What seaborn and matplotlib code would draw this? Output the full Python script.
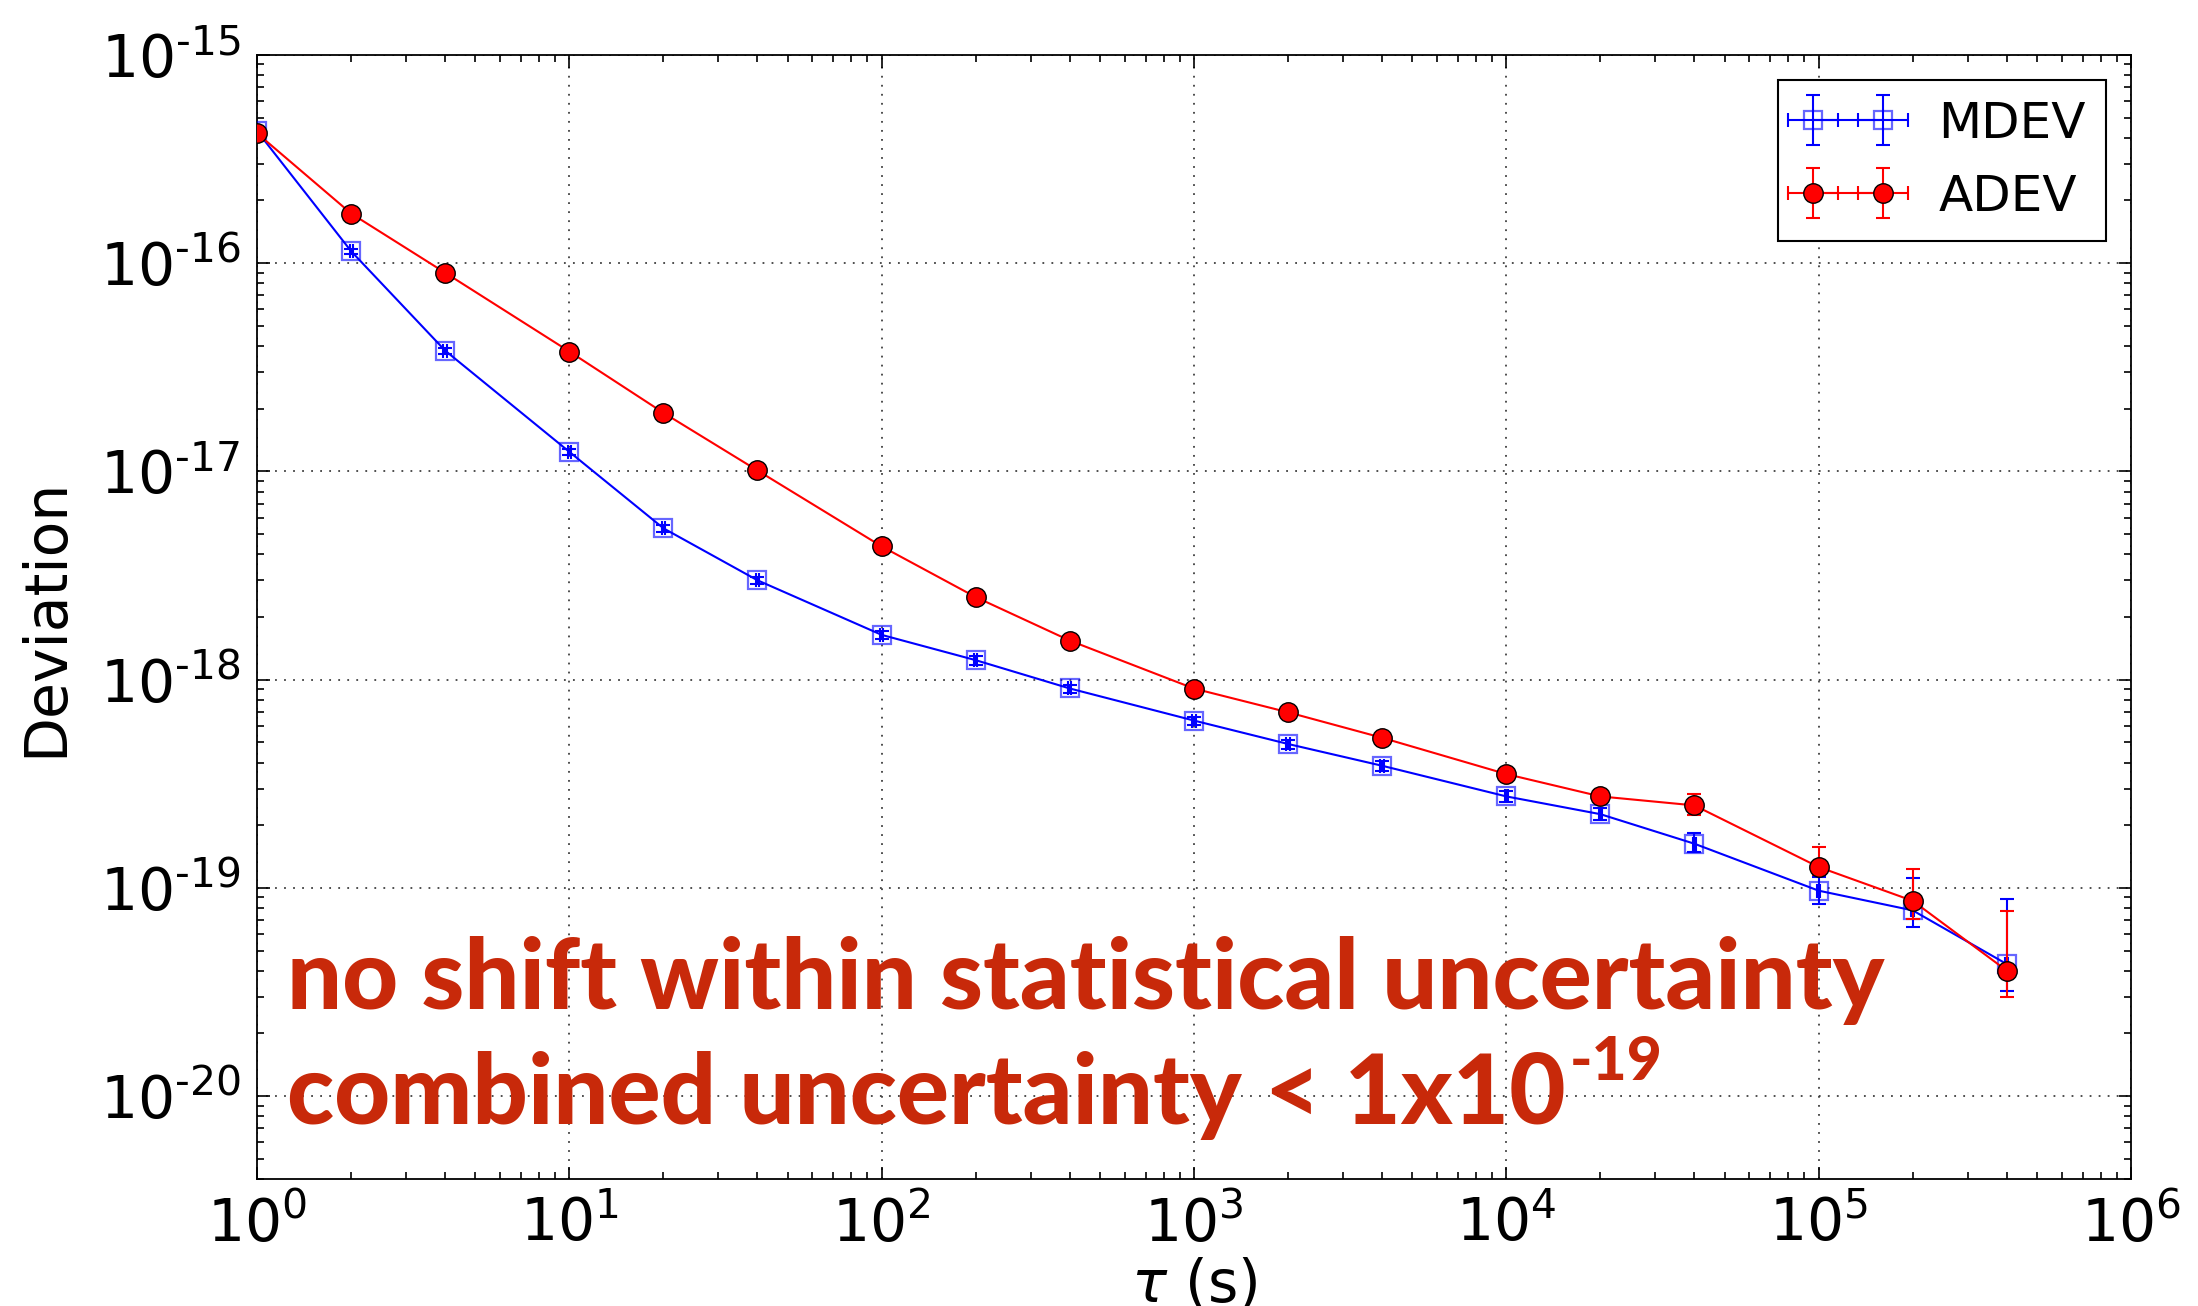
import matplotlib
matplotlib.use("Agg")
import matplotlib.pyplot as plt
import seaborn as sns
import numpy as np
import pandas as pd
from matplotlib.container import ErrorbarContainer
from matplotlib.ticker import FuncFormatter, LogLocator

# ---------------- data ----------------
tau = [1, 2, 4, 10, 20, 40, 100, 200, 400, 1e3, 2e3, 4e3, 1e4, 2e4, 4e4, 1e5, 2e5, 4e5]
tau_err = [0.012, 0.024, 0.05, 0.12, 0.24, 0.5, 1.2, 2.4, 5, 12, 24, 50, 120, 240, 500, 1200, 2400, 5000]

mdev = [4.3e-16, 1.14e-16, 3.80e-17, 1.24e-17, 5.33e-18, 3.0e-18, 1.64e-18, 1.24e-18,
        9.07e-19, 6.36e-19, 4.91e-19, 3.86e-19, 2.75e-19, 2.26e-19, 1.63e-19, 9.7e-20,
        7.8e-20, 4.31e-20]
mdev_err_lo = [1.0e-17, 3e-18, 1.2e-18, 4e-19, 2e-19, 1.2e-19, 7e-20, 6e-20, 4e-20, 2.8e-20,
               2.4e-20, 2.0e-20, 1.6e-20, 1.5e-20, 1.4e-20, 1.3e-20, 1.3e-20, 1.1e-20]
mdev_err_hi = [1.0e-17, 3e-18, 1.2e-18, 4e-19, 2e-19, 1.2e-19, 7e-20, 6e-20, 4e-20, 2.8e-20,
               2.4e-20, 2.0e-20, 1.8e-20, 1.6e-20, 2.1e-20, 1.6e-20, 3.3e-20, 4.5e-20]

adev = [4.2e-16, 1.73e-16, 8.99e-17, 3.76e-17, 1.91e-17, 1.01e-17, 4.36e-18, 2.49e-18,
        1.54e-18, 9.06e-19, 6.97e-19, 5.26e-19, 3.52e-19, 2.75e-19, 2.49e-19, 1.26e-19,
        8.67e-20, 4.01e-20]
adev_err_lo = [1e-17, 4e-18, 2e-18, 9e-19, 5e-19, 3e-19, 1.3e-19, 8e-20, 5e-20, 3.5e-20,
               3e-20, 2.5e-20, 1.5e-20, 1.5e-20, 2.4e-20, 1.1e-20, 1.6e-20, 1.0e-20]
adev_err_hi = [1e-17, 4e-18, 2e-18, 9e-19, 5e-19, 3e-19, 1.4e-19, 9e-20, 6e-20, 4e-20,
               3.5e-20, 3e-20, 1.8e-20, 2e-20, 3.3e-20, 3.1e-20, 3.7e-20, 3.7e-20]

series_labels = ["MDEV", "ADEV"]
note_line1 = "no shift within statistical uncertainty"
note_line2 = "combined uncertainty < 1x10"
note_sup = "-19"

# ---------------- style ----------------
sns.set_style("ticks")
plt.rcParams["font.family"] = ["DejaVu Sans"]
plt.rcParams["mathtext.fontset"] = "dejavusans"
plt.rcParams["text.color"] = "black"
plt.rcParams["axes.labelcolor"] = "black"
plt.rcParams["xtick.color"] = "black"
plt.rcParams["ytick.color"] = "black"

fig, ax = plt.subplots(figsize=(21.98, 13.06), dpi=100)
fig.subplots_adjust(left=0.117, right=0.9695, top=0.958, bottom=0.0972)
ax.set_xscale("log")
ax.set_yscale("log")

df_m = pd.DataFrame({"tau": tau, "dev": mdev})
df_a = pd.DataFrame({"tau": tau, "dev": adev})

# MDEV
eb_m = ax.errorbar(tau, mdev, yerr=[mdev_err_lo, mdev_err_hi], xerr=tau_err, fmt="none",
                   ecolor="blue", elinewidth=1.5, capsize=5, capthick=1.5, zorder=2)
sns.lineplot(data=df_m, x="tau", y="dev", ax=ax, color="blue", marker="s", markersize=13,
             markerfacecolor="none", markeredgecolor=(0, 0, 1, 0.6), markeredgewidth=1.6,
             linewidth=1.5, errorbar=None, sort=False, legend=False, zorder=3)
line_m = ax.lines[-1]

# ADEV
eb_a = ax.errorbar(tau, adev, yerr=[adev_err_lo, adev_err_hi], xerr=tau_err, fmt="none",
                   ecolor="red", elinewidth=1.5, capsize=5, capthick=1.5, zorder=4)
sns.lineplot(data=df_a, x="tau", y="dev", ax=ax, color="red", marker="o", markersize=14,
             markerfacecolor="red", markeredgecolor="black", markeredgewidth=1.0,
             linewidth=1.5, errorbar=None, sort=False, legend=False, zorder=5)
line_a = ax.lines[-1]

ax.set_xlim(1, 1e6)
ax.set_ylim(4e-21, 1e-15)


def dec_fmt(v, pos):
    e = int(round(np.log10(v)))
    return r"$\mathdefault{10^{\text{%d}}}$" % e


ax.xaxis.set_major_locator(LogLocator(base=10, numticks=20))
ax.yaxis.set_major_locator(LogLocator(base=10, numticks=20))
ax.xaxis.set_major_formatter(FuncFormatter(dec_fmt))
ax.yaxis.set_major_formatter(FuncFormatter(dec_fmt))

ax.grid(True, which="major", linestyle=(0, (1, 4)), color="0.25", linewidth=1.3)
ax.grid(False, which="minor")
ax.tick_params(which="both", direction="in", top=True, right=True, labelsize=42, width=1.2,
               colors="black")
ax.tick_params(which="major", length=9, pad=12)
ax.tick_params(which="minor", length=5)
for sp in ax.spines.values():
    sp.set_linewidth(1.3)
    sp.set_color("black")

ax.set_xlabel(r"$\tau$ (s)", fontsize=42, labelpad=2, color="black")
ax.set_ylabel("Deviation", fontsize=42, labelpad=18, color="black")

# legend
c_m = ErrorbarContainer((line_m, eb_m.lines[1], eb_m.lines[2]), has_xerr=True, has_yerr=True,
                        label=series_labels[0])
c_a = ErrorbarContainer((line_a, eb_a.lines[1], eb_a.lines[2]), has_xerr=True, has_yerr=True,
                        label=series_labels[1])
leg = ax.legend(handles=[c_m, c_a], loc="upper right", numpoints=2, fontsize=36,
                frameon=True, fancybox=False, edgecolor="black", framealpha=1,
                borderaxespad=0.5, handlelength=2.0, labelcolor="black")
leg.get_frame().set_linewidth(1.5)

# annotation text
txt_color = "#C8290A"
t1 = ax.text(0.016, 0.151, note_line1, transform=ax.transAxes, fontsize=60,
             family=["Lato", "DejaVu Sans"], fontweight="black", color=txt_color, zorder=6)
t2 = ax.text(0.016, 0.049, note_line2, transform=ax.transAxes, fontsize=60,
             family=["Lato", "DejaVu Sans"], fontweight="black", color=txt_color, zorder=6)
fig.canvas.draw()
r = fig.canvas.get_renderer()
w1 = t1.get_window_extent(r).width
fs = 60 * 1598.0 / w1
t1.set_fontsize(fs)
t2.set_fontsize(fs)
fig.canvas.draw()
bb2 = t2.get_window_extent(r)
base_px = ax.transAxes.transform((0.016, 0.049))[1]
W, H = fig.get_size_inches() * fig.dpi
fig.text((bb2.x1 + 4) / W, (base_px + 0.45 * fs * fig.dpi / 72) / H, note_sup,
         fontsize=fs * 0.62, family=["Lato", "DejaVu Sans"], fontweight="black",
         color=txt_color, zorder=6)

fig.savefig("out.png", dpi=100)
